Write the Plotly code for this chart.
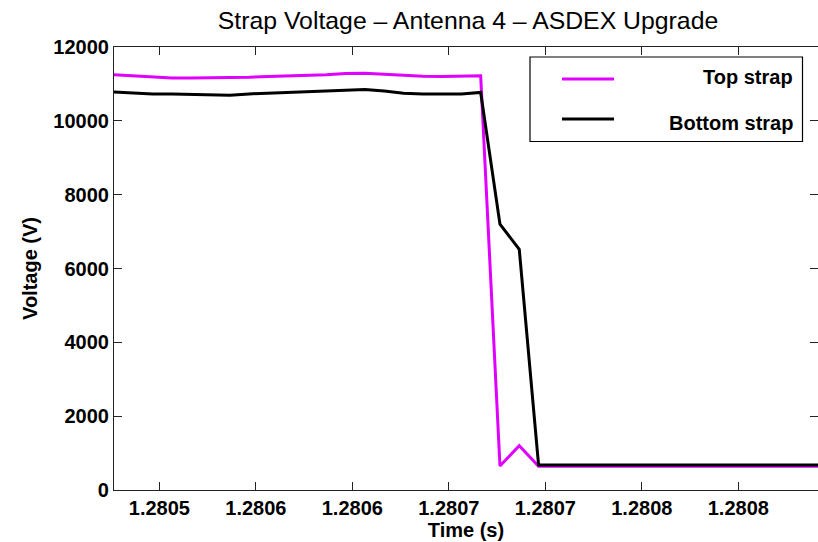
import plotly.graph_objects as go

# ---- data ----
time_s = [1.2804765, 1.2804865, 1.2804965, 1.2805065, 1.2805165, 1.2805265,
          1.2805365, 1.2805465, 1.2805565, 1.2805665, 1.2805765, 1.2805865,
          1.2805965, 1.2806065, 1.2806165, 1.2806265, 1.2806365, 1.2806465,
          1.2806565, 1.2806665, 1.2806765, 1.2806865, 1.2806965, 1.2807065,
          1.2807165, 1.2807265, 1.2807365, 1.2807465, 1.2807565, 1.2807665,
          1.2807765, 1.2807865, 1.2807965, 1.2808065, 1.2808165, 1.2808265,
          1.2808365, 1.2808465]
top_strap = [11250, 11220, 11170, 11160, 11160, 11160, 11160, 11180, 11200,
             11210, 11240, 11250, 11280, 11290, 11260, 11230, 11210, 11200,
             11210, 11220, 650, 1200, 640, 640, 640, 640, 640, 640, 640, 640,
             640, 640, 640, 640, 640, 640, 640, 640]
bottom_strap = [10780, 10750, 10730, 10730, 10715, 10700, 10690, 10730, 10750,
                10770, 10800, 10810, 10840, 10850, 10810, 10750, 10730, 10730,
                10730, 10770, 7200, 6520, 680, 680, 680, 680, 680, 680, 680,
                680, 680, 680, 680, 680, 680, 680, 680, 680]
x_tickvals = [1.28050, 1.28055, 1.28060, 1.28065, 1.28070, 1.28075, 1.28080]
x_ticktext = ["1.2805", "1.2806", "1.2806", "1.2807", "1.2807", "1.2808", "1.2808"]
y_tickvals = [0, 2000, 4000, 6000, 8000, 10000, 12000]
y_ticktext = ["0", "2000", "4000", "6000", "8000", "10000", "12000"]
series_names = ["Top strap", "Bottom strap"]
series_colors = ["#e000ff", "#000000"]

FONT = "Liberation Sans, Arial, Helvetica, sans-serif"

fig = go.Figure()
for name, ys, col in zip(series_names, [top_strap, bottom_strap], series_colors):
    fig.add_trace(go.Scatter(x=time_s, y=ys, mode="lines", name=name,
                             line=dict(color=col, width=3), showlegend=False))

# manual legend (box, sample lines, right-aligned labels) in paper coords
W, L, T, B = 818, 114, 47, 52
PW, PH = W - L, 542 - T - B
def px(x):
    return (x - L) / PW
def py(y):
    return (542 - B - y) / PH

shapes = [dict(type="rect", xref="paper", yref="paper",
               x0=px(530), x1=px(802.5), y0=py(141.5), y1=py(57),
               line=dict(color="#000", width=1.2), fillcolor="white", layer="above")]
ann = []
for i, (name, col) in enumerate(zip(series_names, series_colors)):
    yy = [79, 119][i]
    shapes.append(dict(type="line", xref="paper", yref="paper",
                       x0=px(562), x1=px(614), y0=py(yy), y1=py(yy),
                       line=dict(color=col, width=3), layer="above"))
    ann.append(dict(xref="paper", yref="paper", x=px(795), y=py([77, 123][i]),
                    xanchor="right", yanchor="middle", showarrow=False, text=name,
                    font=dict(family=FONT, size=20, color="#000", weight=700)))

fig.update_layout(
    width=W, height=542,
    margin=dict(l=L, r=0, t=T, b=B),
    plot_bgcolor="white", paper_bgcolor="white",
    title=dict(text="Strap Voltage – Antenna 4 – ASDEX Upgrade",
               x=px(468), xref="paper", xanchor="center",
               y=1 - 20 / 542, yanchor="middle",
               font=dict(family=FONT, size=24.8, color="#000")),
    shapes=shapes, annotations=ann,
    xaxis=dict(range=[1.2804765, 1.2808413], tickvals=x_tickvals, ticktext=x_ticktext,
               ticks="inside", ticklen=8, tickcolor="#222", tickwidth=1,
               showline=True, linecolor="#222", linewidth=1.2, mirror="ticks",
               showgrid=False, zeroline=False,
               tickfont=dict(family=FONT, size=20, color="#000", weight=700),
               title=dict(text="Time (s)", standoff=0,
                          font=dict(family=FONT, size=20, color="#000", weight=700))),
    yaxis=dict(range=[0, 12000], tickvals=y_tickvals, ticktext=y_ticktext,
               ticks="inside", ticklen=8, tickcolor="#222", tickwidth=1,
               showline=True, linecolor="#222", linewidth=1.2, mirror="ticks",
               showgrid=False, zeroline=False,
               tickfont=dict(family=FONT, size=20, color="#000", weight=700),
               title=dict(text="Voltage (V)", standoff=10,
                          font=dict(family=FONT, size=20, color="#000", weight=700))),
)

fig.write_html("out.html")
